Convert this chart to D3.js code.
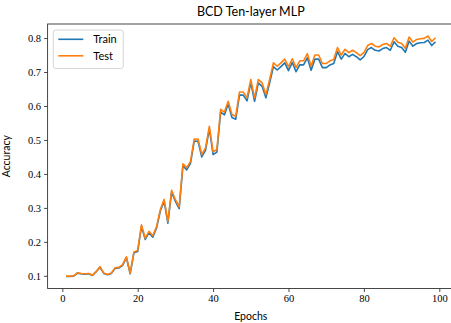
<!DOCTYPE html>
<html>
<head>
<meta charset="utf-8">
<script src="https://cdn.jsdelivr.net/npm/d3@7"></script>
<style>
  body { margin: 0; background: #fff; }
  svg { display: block; }
</style>
</head>
<body>
<div id="chart"></div>
<script>
// accuracy per epoch
var epochs = d3.range(1, 100);

var testAcc = [
  0.099, 0.099, 0.100, 0.109, 0.107, 0.106, 0.107, 0.102, 0.113, 0.127,
  0.108, 0.104, 0.108, 0.124, 0.125, 0.133, 0.156, 0.108, 0.170, 0.175,
  0.250, 0.211, 0.231, 0.218, 0.245, 0.295, 0.325, 0.260, 0.352, 0.324,
  0.303, 0.430, 0.418, 0.437, 0.503, 0.503, 0.457, 0.477, 0.540, 0.465,
  0.472, 0.590, 0.582, 0.614, 0.575, 0.570, 0.641, 0.641, 0.624, 0.678,
  0.624, 0.678, 0.668, 0.634, 0.678, 0.727, 0.717, 0.727, 0.738, 0.715,
  0.739, 0.713, 0.733, 0.733, 0.754, 0.717, 0.750, 0.750, 0.725, 0.725,
  0.733, 0.737, 0.772, 0.750, 0.767, 0.757, 0.764, 0.757, 0.748, 0.757,
  0.778, 0.784, 0.776, 0.774, 0.781, 0.784, 0.776, 0.801, 0.788, 0.784,
  0.770, 0.803, 0.788, 0.796, 0.798, 0.799, 0.806, 0.790, 0.801
];

var trainAcc = [
  0.098, 0.098, 0.099, 0.108, 0.106, 0.105, 0.106, 0.101, 0.112, 0.125,
  0.107, 0.103, 0.107, 0.122, 0.123, 0.131, 0.154, 0.106, 0.168, 0.172,
  0.246, 0.207, 0.227, 0.214, 0.241, 0.291, 0.320, 0.255, 0.347, 0.319,
  0.298, 0.424, 0.412, 0.431, 0.497, 0.496, 0.450, 0.470, 0.533, 0.457,
  0.464, 0.582, 0.574, 0.606, 0.566, 0.561, 0.632, 0.632, 0.615, 0.669,
  0.614, 0.668, 0.658, 0.624, 0.668, 0.716, 0.706, 0.716, 0.727, 0.704,
  0.728, 0.701, 0.721, 0.721, 0.742, 0.705, 0.738, 0.738, 0.713, 0.713,
  0.721, 0.725, 0.760, 0.738, 0.755, 0.745, 0.752, 0.745, 0.736, 0.745,
  0.766, 0.772, 0.764, 0.762, 0.769, 0.772, 0.764, 0.789, 0.776, 0.772,
  0.758, 0.791, 0.776, 0.784, 0.786, 0.787, 0.794, 0.778, 0.789
];

var seriesNames = ["Train", "Test"];
var seriesColors = ["#1f77b4", "#ff7f0e"];
var xTicks = [0, 20, 40, 60, 80, 100];
var yTicks = [0.1, 0.2, 0.3, 0.4, 0.5, 0.6, 0.7, 0.8];

var W = 451, H = 323;
var margin = {top: 24, right: -3, bottom: 34.5, left: 47.6};
var width = W - margin.left - margin.right,
    height = H - margin.top - margin.bottom;

var svg = d3.select("#chart")
  .append("svg")
    .attr("width", W)
    .attr("height", H)
  .append("g")
    .attr("transform", "translate(" + margin.left + "," + margin.top + ")");

var x = d3.scaleLinear()
  .domain([-3.9, 103.9])
  .range([0, width]);

var y = d3.scaleLinear()
  .domain([0.0627, 0.8414])
  .range([height, 0]);

var serif = "'Liberation Serif', 'DejaVu Serif', serif";
var sans = "Lato, 'DejaVu Sans', sans-serif";

// axes
var xAxis = svg.append("g")
  .attr("transform", "translate(0," + height + ")")
  .call(d3.axisBottom(x).tickValues(xTicks).tickSize(3.5).tickPadding(3).tickFormat(d3.format("d")));
var yAxis = svg.append("g")
  .call(d3.axisLeft(y).tickValues(yTicks).tickSize(3.5).tickPadding(3).tickFormat(d3.format(".1f")));

[xAxis, yAxis].forEach(function(a) {
  a.select(".domain").remove();
  a.selectAll("line").attr("stroke", "#333").attr("stroke-width", 0.9);
  a.selectAll("text").attr("fill", "#000").style("font-family", serif).style("font-size", "10.5px");
});

// frame
svg.append("rect")
  .attr("x", 0).attr("y", 0)
  .attr("width", width).attr("height", height)
  .attr("fill", "none")
  .attr("stroke", "#333")
  .attr("stroke-width", 0.9);

// lines
var line = d3.line()
  .x(function(d, i) { return x(epochs[i]); })
  .y(function(d) { return y(d); });

[trainAcc, testAcc].forEach(function(s, k) {
  svg.append("path")
    .datum(s)
    .attr("fill", "none")
    .attr("stroke", seriesColors[k])
    .attr("stroke-width", 1.6)
    .attr("stroke-linejoin", "round")
    .attr("d", line);
});

// title and labels
svg.append("text")
  .attr("x", x(50))
  .attr("y", -8)
  .attr("text-anchor", "middle")
  .style("font-family", sans)
  .style("font-size", "12.5px")
  .text("BCD Ten-layer MLP");

svg.append("text")
  .attr("x", x(50))
  .attr("y", height + 31)
  .attr("text-anchor", "middle")
  .style("font-family", sans)
  .style("font-size", "10.5px")
  .text("Epochs");

svg.append("text")
  .attr("transform", "rotate(-90)")
  .attr("x", -height / 2)
  .attr("y", -38)
  .attr("text-anchor", "middle")
  .style("font-family", sans)
  .style("font-size", "10.5px")
  .text("Accuracy");

// legend
var lg = svg.append("g").attr("transform", "translate(5.7,6)");
lg.append("rect")
  .attr("width", 70).attr("height", 38.5)
  .attr("rx", 2.5)
  .attr("fill", "#fff").attr("fill-opacity", 0.8)
  .attr("stroke", "#ccc").attr("stroke-width", 0.8);
seriesNames.forEach(function(n, i) {
  var yy = 9.3 + i * 16.5;
  lg.append("line")
    .attr("x1", 5).attr("x2", 30)
    .attr("y1", yy).attr("y2", yy)
    .attr("stroke", seriesColors[i]).attr("stroke-width", 1.6);
  lg.append("text")
    .attr("x", 40).attr("y", yy + 3.8)
    .style("font-family", sans)
    .style("font-size", "11px")
    .text(n);
});
</script>
</body>
</html>
